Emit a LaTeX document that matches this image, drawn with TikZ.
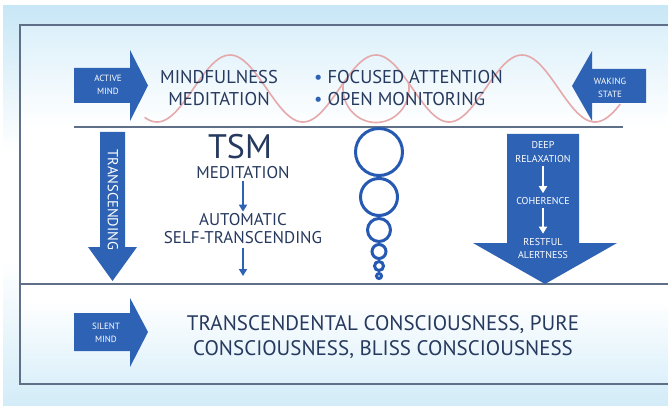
\documentclass[tikz,border=0pt]{standalone}
\usepackage{fontspec}
\setmainfont{PT Sans}
\usetikzlibrary{arrows.meta,calc}

\definecolor{navy}{HTML}{26395E}
\definecolor{arrowblue}{HTML}{2E62B4}
\definecolor{ringblue}{HTML}{2659B2}
\definecolor{rulegray}{HTML}{5F6F88}
\definecolor{wavered}{HTML}{E5A9AC}
\definecolor{sky}{HTML}{C8E7F6}
\definecolor{skylight}{HTML}{DCF0FA}
\definecolor{skybottom}{HTML}{D3ECF8}

\begin{document}
\begin{tikzpicture}[x=1pt,y=-1pt,
  caption/.style={text=navy, inner sep=0pt, align=center},
  blocktext/.style={text=white, inner sep=0pt, align=center,
    font=\fontsize{9}{12.5}\selectfont},
  blockarrow/.style={fill=arrowblue},
  framerule/.style={draw=rulegray, line width=1.1pt},
  steparrow/.style={draw=arrowblue, line width=2.2pt,
    -{Triangle[width=8pt,length=7pt]}},
  whitearrow/.style={draw=white, line width=2.2pt,
    -{Triangle[width=8pt,length=7pt]}},
  ring/.style={draw=ringblue, line width=3pt},
]
\useasboundingbox (0,0) rectangle (668,406);

% page background
\fill[white] (0,0) rectangle (668,406);
\shade[top color=sky, bottom color=white] (3,6) rectangle (668,150);
\fill[white] (3,150) rectangle (668,260);
\shade[top color=white, bottom color=skybottom] (3,260) rectangle (668,406);

% inside of the frame
\fill[white] (20,25) rectangle (668,384);
\shade[top color=skylight, bottom color=white] (20,25) rectangle (668,127);
\shade[top color=white, bottom color=skylight] (20,300) rectangle (668,384);

% frame and separators
\draw[framerule] (668,25) -- (20,25) -- (20,384) -- (668,384);
\draw[framerule] (74,127) -- (623,127);
\draw[framerule] (20,284) -- (668,284);

% oscillating mind wave
\draw[wavered, line width=1.6pt, line cap=round]
  plot[domain=145:620, samples=200, smooth] (\x, {88.5-33.5*cos(2.4658*(\x-376))});
\draw[wavered, line width=1.6pt, line cap=round]
  plot[domain=-10:190, samples=60, smooth] ({376-33*cos(\x)}, {88.5+34*sin(\x)});

% block arrows
\fill[blockarrow] (74,68) -- (130,68) -- (130,50) -- (148,85.5) -- (130,121) -- (130,103) -- (74,103) -- cycle;
\fill[blockarrow] (646,69) -- (592,69) -- (592,51) -- (572,86) -- (592,121) -- (592,103) -- (646,103) -- cycle;
\fill[blockarrow] (74,313) -- (130,313) -- (130,298) -- (148,332) -- (130,367) -- (130,351) -- (74,351) -- cycle;
\fill[blockarrow] (100,132) -- (125,132) -- (125,247) -- (137,247) -- (112.5,281) -- (88,247) -- (100,247) -- cycle;
\fill[blockarrow] (507,134) -- (579,134) -- (579,243) -- (617,243) -- (545,284) -- (473,243) -- (507,243) -- cycle;

\node[blocktext] (active) at (108,85) {ACTIVE\\MIND};
\node[blocktext] (waking) at (610,88) {WAKING\\STATE};
\node[blocktext] (silent) at (106,333) {SILENT\\MIND};
\node[blocktext, font=\fontsize{14.5}{16}\selectfont, rotate=-90] (transcending) at (113,200) {TRANSCENDING};

% top row texts
\node[caption, font=\fontsize{18.5}{22}\selectfont] (mindful) at (219,88) {MINDFULNESS\\MEDITATION};
\node[caption, anchor=west, align=left, font=\fontsize{18.5}{22}\selectfont] (styles) at (314,88)
  {{\color{arrowblue}\textbullet} FOCUSED ATTENTION\\{\color{arrowblue}\textbullet} OPEN MONITORING};

% TSM column
\node[caption, font=\fontsize{34}{34}\selectfont] (tsm) at (240,147) {TSM};
\node[caption, font=\fontsize{17}{18}\selectfont] (tsmmed) at (243,173) {MEDITATION};
\node[caption, font=\fontsize{17}{18}\selectfont] (auto) at (243,229) {AUTOMATIC\\SELF-TRANSCENDING};
\coordinate (autoend) at (243,276);
\draw[steparrow] ($(tsmmed.south)+(0,2)$) -- ($(auto.north)+(0,-2)$);
\draw[steparrow] ($(auto.south)+(0,4)$) -- (autoend);

% shrinking thought bubbles
\draw[ring] (379,152) circle[radius=23.5];
\draw[ring] (379,197) circle[radius=18.5];
\draw[ring] (379,230) circle[radius=11.5];
\draw[ring] (379,251.5) circle[radius=7];
\draw[ring] (379,266) circle[radius=4.5];
\draw[ring] (379,276) circle[radius=2.5];

% physiological effects
\node[blocktext, font=\fontsize{10}{14}\selectfont] (deep) at (543,152) {DEEP\\RELAXATION};
\node[blocktext, font=\fontsize{10}{14}\selectfont] (coh) at (543,201) {COHERENCE};
\node[blocktext, font=\fontsize{10}{13}\selectfont] (rest) at (543,248) {RESTFUL\\ALERTNESS};
\draw[whitearrow] ($(deep.south)+(0,3)$) -- ($(coh.north)+(0,-4)$);
\draw[whitearrow] ($(coh.south)+(0,3)$) -- ($(rest.north)+(0,-4)$);

% pure consciousness
\node[caption, font=\fontsize{21}{25}\selectfont] (pure) at (383,337)
  {TRANSCENDENTAL CONSCIOUSNESS, PURE\\CONSCIOUSNESS, BLISS CONSCIOUSNESS};
\end{tikzpicture}
\end{document}
